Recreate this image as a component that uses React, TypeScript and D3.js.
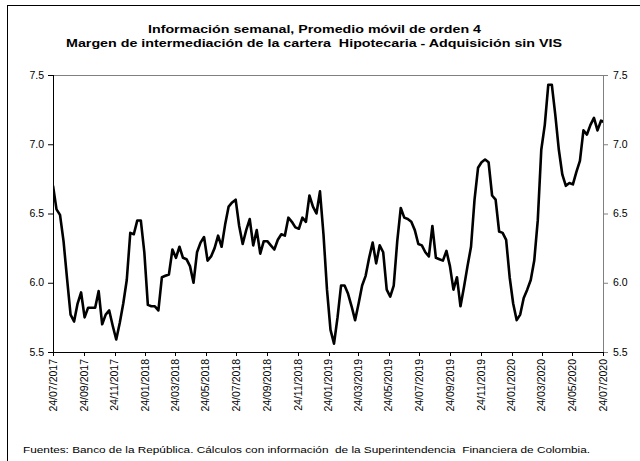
import React from "react";
import * as d3 from "d3";

const TITLE_LINES = [
  "Información semanal, Promedio móvil de orden 4",
  "Margen de intermediación de la cartera  Hipotecaria - Adquisición sin VIS",
];
const FOOTER =
  "Fuentes: Banco de la República. Cálculos con información  de la Superintendencia  Financiera de Colombia.";

const START_DATE = "24/07/2017";
const END_DATE = "24/07/2020";

const X_TICK_LABELS = [
  "24/07/2017", "24/09/2017", "24/11/2017", "24/01/2018", "24/03/2018",
  "24/05/2018", "24/07/2018", "24/09/2018", "24/11/2018", "24/01/2019",
  "24/03/2019", "24/05/2019", "24/07/2019", "24/09/2019", "24/11/2019",
  "24/01/2020", "24/03/2020", "24/05/2020", "24/07/2020",
];

const Y_TICKS = [5.5, 6.0, 6.5, 7.0, 7.5];

// weekly values, moving average of order 4
const VALUES = [
  6.70, 6.53, 6.49, 6.30, 6.03, 5.77, 5.72, 5.85, 5.93, 5.75,
  5.82, 5.82, 5.82, 5.94, 5.70, 5.77, 5.80, 5.69, 5.59, 5.71,
  5.85, 6.02, 6.36, 6.35, 6.45, 6.45, 6.22, 5.84, 5.83, 5.83,
  5.80, 6.04, 6.05, 6.06, 6.24, 6.18, 6.26, 6.18, 6.17, 6.12,
  6.00, 6.22, 6.29, 6.33, 6.16, 6.19, 6.25, 6.34, 6.26, 6.42,
  6.55, 6.58, 6.60, 6.41, 6.28, 6.38, 6.46, 6.27, 6.38, 6.21,
  6.30, 6.30, 6.27, 6.24, 6.31, 6.35, 6.34, 6.47, 6.44, 6.40,
  6.39, 6.47, 6.44, 6.63, 6.55, 6.50, 6.66, 6.35, 5.95, 5.66,
  5.56, 5.75, 5.98, 5.98, 5.92, 5.83, 5.73, 5.85, 5.98, 6.05,
  6.18, 6.29, 6.14, 6.27, 6.22, 5.95, 5.90, 5.98, 6.30, 6.54,
  6.47, 6.46, 6.44, 6.38, 6.28, 6.27, 6.22, 6.19, 6.41, 6.18,
  6.17, 6.16, 6.23, 6.12, 5.95, 6.04, 5.83, 5.97, 6.12, 6.26,
  6.60, 6.83, 6.87, 6.89, 6.87, 6.63, 6.60, 6.37, 6.36, 6.31,
  6.04, 5.85, 5.73, 5.77, 5.89, 5.95, 6.02, 6.16, 6.45, 6.96,
  7.14, 7.43, 7.43, 7.21, 6.96, 6.78, 6.70, 6.72, 6.71, 6.80,
  6.88, 7.10, 7.07, 7.14, 7.19, 7.10, 7.17, 7.16,
];

const W = 640;
const H = 461;
const PLOT = { left: 53, right: 603, top: 75, bottom: 352 };
const FONT = "'Liberation Sans', Arial, sans-serif";
const TITLE_LAYOUT = [
  { x: 148, y: 33, len: 333 },
  { x: 66, y: 47, len: 496 },
];
const FOOTER_LAYOUT = { x: 23, y: 453, len: 567 };

export default function App() {
  const parse = d3.timeParse("%d/%m/%Y");
  const start = parse(START_DATE) as Date;
  const end = parse(END_DATE) as Date;
  const data = VALUES.map((v, i) => ({ date: d3.timeDay.offset(start, 7 * i), value: v }));

  const x = d3.scaleTime().domain([start, end]).range([PLOT.left, PLOT.right]);
  const y = d3.scaleLinear().domain([5.5, 7.5]).range([PLOT.bottom, PLOT.top]);

  const line = d3
    .line<{ date: Date; value: number }>()
    .x((d) => x(d.date))
    .y((d) => y(d.value));

  const fmt = d3.format(".1f");
  const xTicks = X_TICK_LABELS.map((s) => ({ label: s, date: parse(s) as Date }));

  return (
    <svg
      width={W}
      height={H}
      style={{ position: "absolute", left: 0, top: 0, background: "#fff" }}
      fontFamily={FONT}
    >
      <defs>
        <clipPath id="plotClip">
          <rect x={PLOT.left} y={PLOT.top - 5} width={PLOT.right - PLOT.left} height={PLOT.bottom - PLOT.top + 10} />
        </clipPath>
      </defs>
      <rect x={0} y={0} width={W} height={H} fill="#fff" />
      <rect x={7.5} y={5.5} width={W} height={H} fill="none" stroke="#000" strokeWidth={1} />

      {TITLE_LINES.map((t, i) => (
        <text
          key={i}
          x={TITLE_LAYOUT[i].x}
          y={TITLE_LAYOUT[i].y}
          textAnchor="start"
          fontWeight="bold"
          fontSize={10.5}
          textLength={TITLE_LAYOUT[i].len}
          lengthAdjust="spacingAndGlyphs"
          style={{ whiteSpace: "pre" }}
        >
          {t}
        </text>
      ))}

      {/* plot frame */}
      <line x1={PLOT.left} x2={PLOT.right} y1={PLOT.top + 0.5} y2={PLOT.top + 0.5} stroke="#808080" />
      <line x1={PLOT.right + 0.5} x2={PLOT.right + 0.5} y1={PLOT.top} y2={PLOT.bottom} stroke="#808080" />
      <line x1={PLOT.left + 0.5} x2={PLOT.left + 0.5} y1={PLOT.top} y2={PLOT.bottom} stroke="#000" />
      <line x1={PLOT.left} x2={PLOT.right} y1={PLOT.bottom + 0.5} y2={PLOT.bottom + 0.5} stroke="#000" />

      {/* y ticks */}
      {Y_TICKS.map((t) => (
        <g key={t}>
          <line x1={PLOT.left - 5} x2={PLOT.left} y1={y(t) + 0.5} y2={y(t) + 0.5} stroke="#000" />
          <line x1={PLOT.right} x2={PLOT.right + 5} y1={y(t) + 0.5} y2={y(t) + 0.5} stroke="#808080" />
          <text x={PLOT.left - 9} y={y(t)} dy="0.35em" textAnchor="end" fontSize={10.5}>
            {fmt(t)}
          </text>
          <text x={PLOT.right + 10} y={y(t)} dy="0.35em" textAnchor="start" fontSize={10.5}>
            {fmt(t)}
          </text>
        </g>
      ))}

      {/* x ticks */}
      {xTicks.map((t) => {
        const px = x(t.date);
        return (
          <g key={t.label}>
            <line x1={Math.round(px) + 0.5} x2={Math.round(px) + 0.5} y1={PLOT.bottom} y2={PLOT.bottom + 4} stroke="#000" />
            <text
              transform={`translate(${px},${PLOT.bottom + 7}) rotate(-90)`}
              dy="0.35em"
              textAnchor="end"
              fontSize={10.5}
            >
              {t.label}
            </text>
          </g>
        );
      })}

      <path
        d={line(data) || ""}
        fill="none"
        stroke="#000"
        strokeWidth={2.6}
        strokeLinejoin="round"
        clipPath="url(#plotClip)"
      />

      <text
        x={FOOTER_LAYOUT.x}
        y={FOOTER_LAYOUT.y}
        fontSize={9.5}
        textLength={FOOTER_LAYOUT.len}
        lengthAdjust="spacingAndGlyphs"
        style={{ whiteSpace: "pre" }}
      >
        {FOOTER}
      </text>
    </svg>
  );
}
